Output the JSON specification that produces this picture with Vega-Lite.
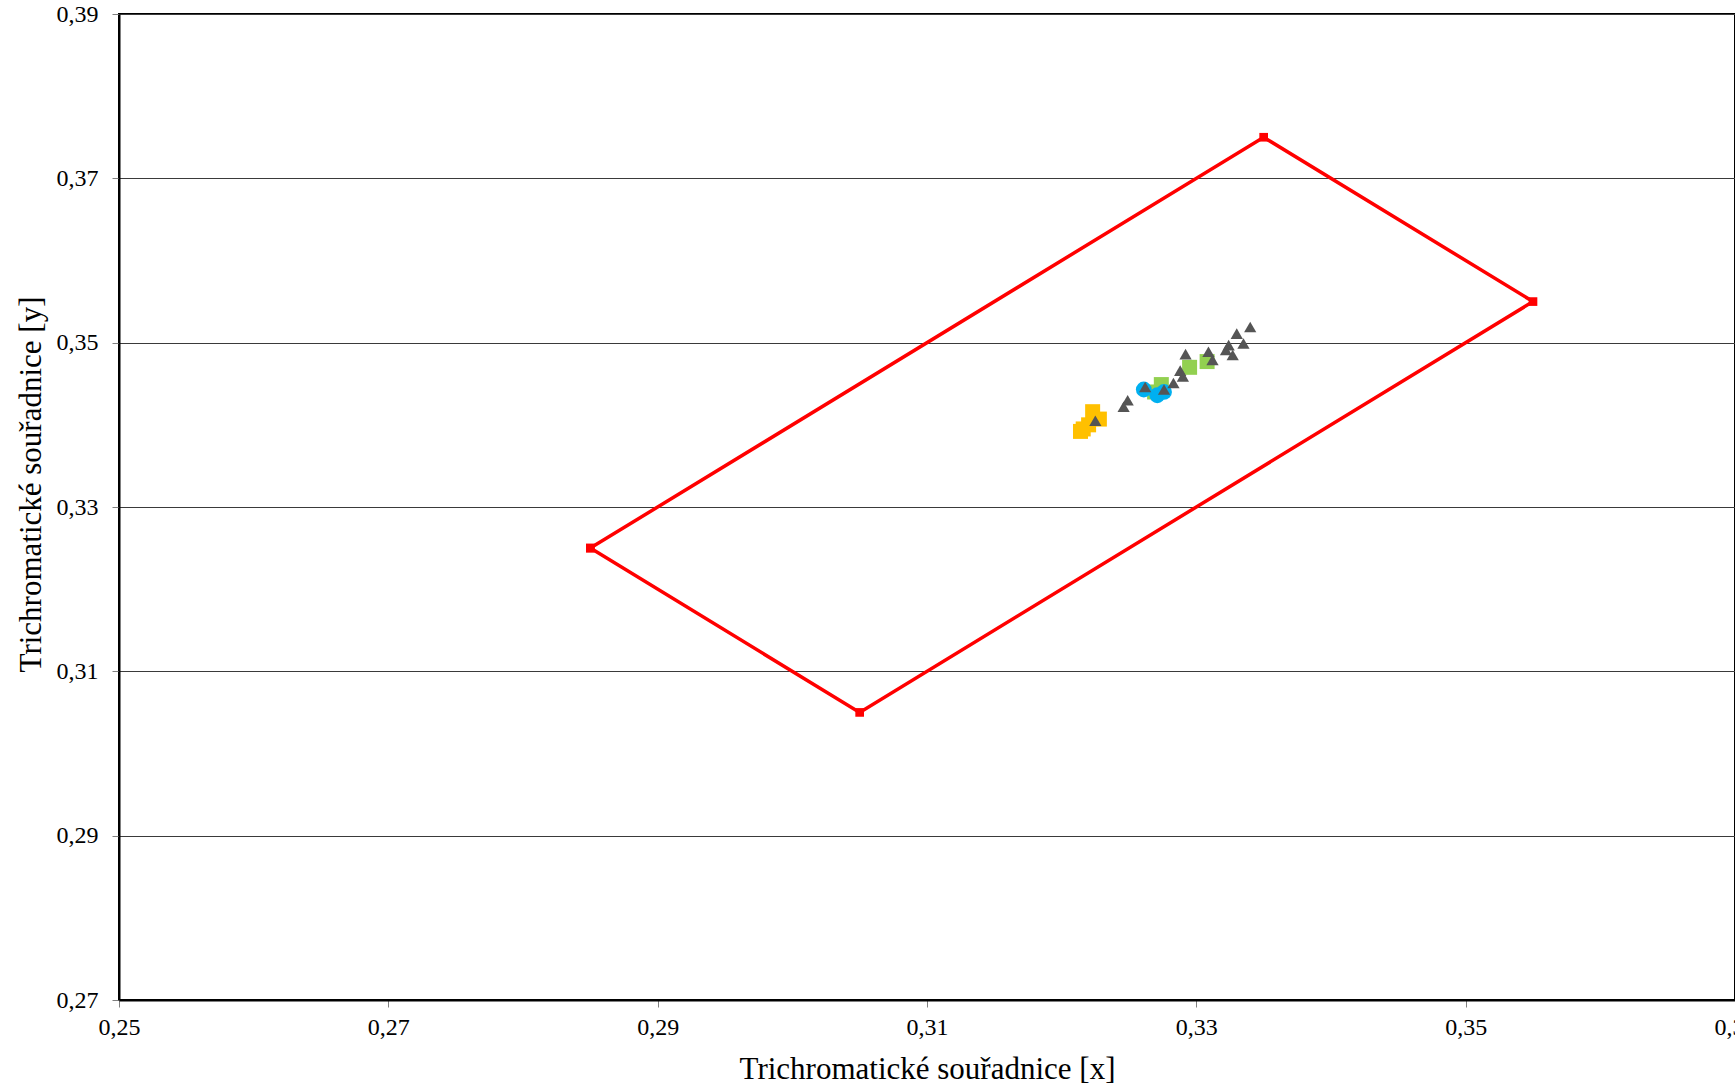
{
  "$schema": "https://vega.github.io/schema/vega-lite/v6.json",
  "autosize": {"type": "none"},
  "padding": {"left": 119, "top": 14, "right": 0, "bottom": 85},
  "width": 1616,
  "height": 986,
  "background": "white",
  "config": {
    "view": {"stroke": "#000000", "strokeWidth": 2},
    "font": "Liberation Serif"
  },
  "datasets": {
    "bounds": [
      {"i": 1, "x": 0.285, "y": 0.325},
      {"i": 2, "x": 0.335, "y": 0.375},
      {"i": 3, "x": 0.355, "y": 0.355},
      {"i": 4, "x": 0.305, "y": 0.305},
      {"i": 5, "x": 0.285, "y": 0.325}
    ],
    "points": [
      {"series": "A", "x": 0.3223, "y": 0.3416},
      {"series": "A", "x": 0.3228, "y": 0.3407},
      {"series": "A", "x": 0.3220, "y": 0.3400},
      {"series": "A", "x": 0.3216, "y": 0.3395},
      {"series": "A", "x": 0.3214, "y": 0.3392},
      {"series": "B", "x": 0.3295, "y": 0.3470},
      {"series": "B", "x": 0.3308, "y": 0.3477},
      {"series": "B", "x": 0.3274, "y": 0.3449},
      {"series": "B", "x": 0.3269, "y": 0.3440},
      {"series": "C", "x": 0.3261, "y": 0.3443},
      {"series": "C", "x": 0.3271, "y": 0.3436},
      {"series": "C", "x": 0.3276, "y": 0.3440},
      {"series": "D", "x": 0.3340, "y": 0.3519},
      {"series": "D", "x": 0.3330, "y": 0.3511},
      {"series": "D", "x": 0.3335, "y": 0.3499},
      {"series": "D", "x": 0.3324, "y": 0.3497},
      {"series": "D", "x": 0.3322, "y": 0.3491},
      {"series": "D", "x": 0.3327, "y": 0.3485},
      {"series": "D", "x": 0.3309, "y": 0.3489},
      {"series": "D", "x": 0.3312, "y": 0.3479},
      {"series": "D", "x": 0.3292, "y": 0.3486},
      {"series": "D", "x": 0.3288, "y": 0.3466},
      {"series": "D", "x": 0.3290, "y": 0.3459},
      {"series": "D", "x": 0.3283, "y": 0.3451},
      {"series": "D", "x": 0.3276, "y": 0.3443},
      {"series": "D", "x": 0.3262, "y": 0.3446},
      {"series": "D", "x": 0.3249, "y": 0.3430},
      {"series": "D", "x": 0.3246, "y": 0.3422},
      {"series": "D", "x": 0.3225, "y": 0.3405}
    ]
  },
  "encoding": {
    "x": {
      "field": "x", "type": "quantitative",
      "scale": {"domain": [0.25, 0.37], "nice": false, "zero": false},
      "axis": {
        "title": "Trichromatické souřadnice [x]",
        "values": [0.25, 0.27, 0.29, 0.31, 0.33, 0.35, 0.37],
        "labelExpr": "replace(format(datum.value, '.2f'), '.', ',')",
        "grid": false,
        "domainColor": "#000000", "domainWidth": 2,
        "tickColor": "#808080", "tickSize": 7, "tickWidth": 1,
        "labelFont": "Liberation Serif", "labelFontSize": 24, "labelColor": "#000000",
        "labelPadding": 8, "labelFlush": false, "labelOverlap": false,
        "titleFont": "Liberation Serif", "titleFontSize": 31, "titleFontWeight": "normal",
        "titleColor": "#000000", "titlePadding": 15
      }
    },
    "y": {
      "field": "y", "type": "quantitative",
      "scale": {"domain": [0.27, 0.39], "nice": false, "zero": false},
      "axis": {
        "title": "Trichromatické souřadnice [y]",
        "values": [0.27, 0.29, 0.31, 0.33, 0.35, 0.37, 0.39],
        "labelExpr": "replace(format(datum.value, '.2f'), '.', ',')",
        "grid": true, "gridColor": "#3a3a3a", "gridWidth": 1,
        "domainColor": "#000000", "domainWidth": 2,
        "tickColor": "#808080", "tickSize": 7, "tickWidth": 1,
        "labelFont": "Liberation Serif", "labelFontSize": 24, "labelColor": "#000000",
        "labelPadding": 14, "labelFlush": false, "labelOverlap": false,
        "titleFont": "Liberation Serif", "titleFontSize": 31, "titleFontWeight": "normal",
        "titleColor": "#000000", "titlePadding": 9, "titleY": 470
      }
    }
  },
  "layer": [
    {
      "data": {"name": "bounds"},
      "mark": {"type": "line", "color": "#ff0000", "strokeWidth": 3.5, "clip": false},
      "encoding": {"order": {"field": "i", "type": "quantitative"}}
    },
    {
      "data": {"name": "bounds"},
      "mark": {"type": "point", "shape": "square", "filled": true, "color": "#ff0000", "opacity": 1, "size": 75}
    },
    {
      "data": {"name": "points"},
      "transform": [{"filter": "datum.series === 'A'"}],
      "mark": {"type": "point", "shape": "square", "filled": true, "color": "#FFC000", "opacity": 1, "size": 225}
    },
    {
      "data": {"name": "points"},
      "transform": [{"filter": "datum.series === 'B'"}],
      "mark": {"type": "point", "shape": "square", "filled": true, "color": "#92D050", "opacity": 1, "size": 225}
    },
    {
      "data": {"name": "points"},
      "transform": [{"filter": "datum.series === 'C'"}],
      "mark": {"type": "point", "shape": "circle", "filled": true, "color": "#00B0F0", "opacity": 1, "size": 250}
    },
    {
      "data": {"name": "points"},
      "transform": [{"filter": "datum.series === 'D'"}],
      "mark": {"type": "point", "shape": "triangle-up", "filled": true, "color": "#555555", "opacity": 1, "size": 150}
    }
  ]
}
